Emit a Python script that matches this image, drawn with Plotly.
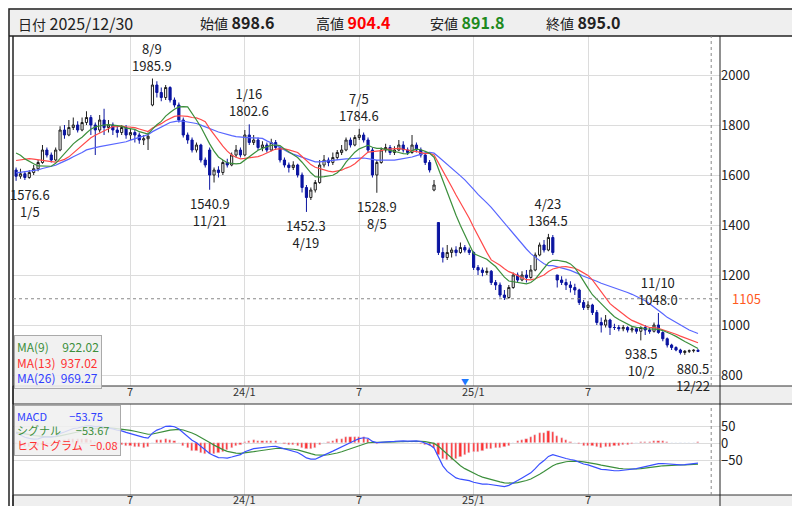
import plotly.graph_objects as go
import pandas as pd

dates = pd.date_range("2023-01-05", periods=156, freq="7D")
opens = [1620,1595,1605,1590,1610,1625,1650,1700,1680,1660,1700,1780,1760,1790,1800,1780,1810,1830,1800,1780,
 1820,1790,1800,1780,1770,1790,1760,1770,1760,1740,1745,1880,1960,1930,1910,1950,1900,1880,1820,1760,
 1740,1700,1720,1660,1700,1600,1620,1610,1650,1640,1680,1700,1680,1760,1730,1740,1710,1720,1700,1730,
 1710,1660,1640,1630,1640,1600,1550,1510,1540,1570,1640,1660,1650,1670,1690,1700,1740,1720,1750,1760,
 1740,1700,1600,1650,1700,1710,1690,1700,1720,1700,1690,1720,1700,1680,1650,1540,1410,1290,1270,1290,
 1300,1290,1310,1300,1290,1230,1220,1210,1215,1170,1160,1120,1110,1150,1200,1180,1200,1190,1220,1280,
 1320,1300,1350,1200,1180,1170,1160,1150,1140,1090,1070,1080,1050,1010,1000,1020,990,990,985,990,
 980,985,975,990,980,975,1000,970,945,920,910,900,890,895,897,898.6]
highs = [1630,1625,1615,1620,1640,1660,1720,1710,1690,1710,1795,1800,1820,1830,1815,1830,1855,1840,1810,1840,
 1865,1820,1810,1800,1800,1800,1785,1780,1770,1760,1770,1985.9,1975,1950,1960,1955,1910,1890,1830,1770,
 1750,1730,1725,1670,1710,1630,1635,1660,1665,1690,1720,1710,1780,1802.6,1760,1750,1735,1730,1745,1740,
 1715,1670,1650,1655,1645,1610,1560,1550,1580,1660,1680,1670,1690,1700,1720,1750,1750,1760,1784.6,1770,
 1750,1710,1660,1710,1725,1720,1715,1740,1735,1710,1760,1730,1710,1690,1660,1580,1410,1310,1320,1310,
 1315,1330,1320,1310,1295,1240,1230,1230,1220,1180,1170,1140,1160,1210,1210,1215,1220,1240,1290,1330,
 1340,1364.5,1360,1200,1195,1185,1175,1165,1145,1100,1095,1085,1060,1030,1040,1025,1005,1000,1000,995,
 995,990,995,1000,990,1010,1048,975,950,925,915,905,900,902,903,904.4]
lows = [1576.6,1585,1580,1585,1600,1615,1645,1670,1650,1655,1695,1745,1755,1780,1770,1775,1800,1760,1680,1770,
 1760,1770,1760,1750,1760,1745,1740,1730,1725,1720,1700,1875,1910,1895,1900,1890,1870,1810,1750,1725,
 1690,1690,1650,1630,1540.9,1570,1590,1600,1630,1635,1670,1670,1675,1720,1720,1700,1695,1690,1695,1700,
 1650,1630,1610,1620,1590,1530,1452.3,1500,1530,1565,1630,1635,1640,1660,1680,1695,1710,1715,1740,1730,
 1690,1590,1528.9,1645,1690,1680,1680,1695,1690,1680,1685,1690,1670,1640,1610,1535,1280,1250,1260,1270,
 1275,1285,1290,1280,1220,1200,1195,1200,1160,1140,1110,1100,1105,1145,1170,1175,1170,1185,1215,1275,
 1290,1295,1280,1150,1160,1140,1130,1120,1080,1060,1060,1040,1000,970,990,960,980,975,975,970,
 970,965,938.5,960,965,970,965,935,910,900,895,882,880.5,888,890,891.8]
closes = [1595,1605,1590,1610,1625,1650,1700,1680,1660,1700,1780,1760,1790,1800,1780,1810,1830,1800,1780,1820,
 1790,1800,1780,1770,1790,1760,1770,1760,1740,1745,1755,1960,1930,1910,1950,1900,1880,1820,1760,1740,
 1700,1720,1660,1640,1600,1620,1610,1650,1640,1680,1700,1680,1760,1730,1740,1710,1720,1700,1730,1710,
 1660,1640,1630,1640,1600,1550,1510,1540,1570,1640,1660,1650,1670,1690,1700,1740,1720,1750,1760,1740,
 1700,1600,1650,1700,1710,1690,1700,1720,1700,1690,1720,1700,1680,1650,1620,1560,1290,1270,1290,1300,
 1290,1310,1300,1290,1230,1220,1210,1215,1170,1160,1120,1110,1150,1200,1180,1200,1190,1220,1280,1320,
 1300,1350,1290,1180,1170,1160,1150,1140,1090,1070,1080,1050,1010,1000,1020,990,990,985,990,980,
 985,975,990,980,975,1000,970,945,920,910,900,890,895,897,899,895.0]
# closes before the visible window (estimated, used only to seed the averages)
pre_closes = [1540,1550,1530,1560,1570,1550,1560,1580,1570,1550,1560,1570,1560,1550,1580,1570,1560,
              1650,1690,1720,1710,1700,1730,1700,1690,1660]

n = len(closes)
idx = list(range(n))
allc = pd.Series(pre_closes + closes)
npre = len(pre_closes)
ma9 = allc.rolling(9).mean().iloc[npre:].tolist()
ma13 = allc.rolling(13).mean().iloc[npre:].tolist()
ma26 = allc.rolling(26).mean().iloc[npre:].tolist()
ema12 = allc.ewm(span=12, adjust=False).mean()
ema26 = allc.ewm(span=26, adjust=False).mean()
macd = ema12 - ema26
sig = macd.ewm(span=9, adjust=False).mean()
hist = (macd - sig)
macd_v = macd.iloc[npre:].tolist(); sig_v = sig.iloc[npre:].tolist(); hist_v = hist.iloc[npre:].tolist()

fig = go.Figure()
fig.add_trace(go.Candlestick(x=idx, open=opens, high=highs, low=lows, close=closes,
    increasing=dict(line=dict(color="#202020", width=1), fillcolor="white"),
    decreasing=dict(line=dict(color="#0a14a0", width=1), fillcolor="#0a14a0"),
    whiskerwidth=0, xaxis="x", yaxis="y", showlegend=False, hoverinfo="skip"))
for vals, col in [(ma26, "#5866ff"), (ma13, "#ff4a4a"), (ma9, "#3c8f3c")]:
    fig.add_trace(go.Scatter(x=idx, y=vals, mode="lines", line=dict(color=col, width=1.2),
                             xaxis="x", yaxis="y", showlegend=False, hoverinfo="skip"))
fig.add_trace(go.Bar(x=idx, y=hist_v, marker_color="#ff3030", width=0.5, xaxis="x2", yaxis="y2", showlegend=False))
fig.add_trace(go.Scatter(x=idx, y=sig_v, mode="lines", line=dict(color="#3c8f3c", width=1.2), xaxis="x2", yaxis="y2", showlegend=False))
fig.add_trace(go.Scatter(x=idx, y=macd_v, mode="lines", line=dict(color="#3a50ff", width=1.2), xaxis="x2", yaxis="y2", showlegend=False))

# month ticks
tickvals, ticktext = [], []
for i in range(1, n):
    if dates[i].month != dates[i-1].month and dates[i].month in (1, 7):
        tickvals.append(i)
        ticktext.append("7" if dates[i].month == 7 else dates[i].strftime("%y") + "/1")

xr = [-0.7, 160]
ax = dict(range=xr, tickvals=tickvals, showticklabels=False, showgrid=True, gridcolor="#dcdcdc",
          zeroline=False, showline=False, ticks="", rangeslider=dict(visible=False), fixedrange=True)
fig.update_layout(
    width=800, height=506, margin=dict(l=0, r=0, t=0, b=0), plot_bgcolor="white", paper_bgcolor="white",
    font=dict(family="Noto Sans CJK JP", color="#222"),
    xaxis=dict(**ax, domain=[5/800, 712/800], anchor="y"),
    xaxis2=dict(**ax, domain=[5/800, 712/800], anchor="y2"),
    yaxis=dict(domain=[1-378/506, 1-28/506], range=[756, 2156], side="right", tickvals=[800,1000,1200,1400,1600,1800,2000],
               gridcolor="#dcdcdc", showline=False, zeroline=False, ticks="", tickfont=dict(size=13, color="#222"), anchor="x"),
    yaxis2=dict(domain=[1-487/506, 1-396/506], range=[-150, 115], side="right", tickvals=[-50, 0, 50],
                gridcolor="#dcdcdc", showline=False, zeroline=False, ticks="", tickfont=dict(size=13, color="#222"), anchor="x2"),
    bargap=0,
)
shapes = [
    dict(type="rect", xref="paper", yref="paper", x0=0, x1=1, y0=1-28/506, y1=1, fillcolor="#efefef", line_width=0, layer="below"),
    dict(type="rect", xref="paper", yref="paper", x0=5/800, x1=795/800, y0=1-396/506, y1=1-378/506, fillcolor="#efefef", line=dict(color="#333", width=1)),
    dict(type="rect", xref="paper", yref="paper", x0=5/800, x1=795/800, y0=1-503/506, y1=1-487/506, fillcolor="#efefef", line=dict(color="#333", width=1)),
    dict(type="rect", xref="paper", yref="paper", x0=1/800, x1=798/800, y0=1/506, y1=1-1/506, line=dict(color="#222", width=1.5)),
    dict(type="line", xref="paper", yref="paper", x0=5/800, x1=5/800, y0=1/506, y1=1-28/506, line=dict(color="#222", width=1.5)),
    dict(type="line", xref="paper", yref="paper", x0=795/800, x1=795/800, y0=1/506, y1=1-28/506, line=dict(color="#222", width=1.5)),
    dict(type="line", xref="paper", yref="paper", x0=1/800, x1=799/800, y0=1-28/506, y1=1-28/506, line=dict(color="#222", width=1.5)),
    dict(type="line", xref="paper", yref="paper", x0=712/800, x1=712/800, y0=1/506, y1=1-28/506, line=dict(color="#222", width=1)),
    dict(type="line", xref="x", yref="y", x0=xr[0], x1=xr[1], y0=1105, y1=1105, line=dict(color="#888", width=1, dash="dot")),
    dict(type="line", xref="x", yref="paper", x0=158, x1=158, y0=1-378/506, y1=1-28/506, line=dict(color="#888", width=1, dash="dot")),
    dict(type="line", xref="x2", yref="paper", x0=158, x1=158, y0=1-487/506, y1=1-396/506, line=dict(color="#888", width=1, dash="dot")),
]
fig.update_layout(shapes=shapes)

ann = []
for tv, tt in zip(tickvals, ticktext):
    for yy in (387, 495):
        ann.append(dict(x=tv, xref="x", yref="paper", y=1-yy/506, yanchor="middle", showarrow=False, text=tt,
                        font=dict(size=11, color="#333"), yshift=4))
def hdr(x, label, val, col):
    ann.append(dict(xref="paper", yref="paper", x=x/800, y=1-14/506, xanchor="left", yanchor="middle", showarrow=False,
                    text=f"<span style='font-size:14px'>{label}</span> <b style='color:{col}'>{val}</b>", font=dict(size=16, color="#222")))
ann.append(dict(xref="paper", yref="paper", x=8/800, y=1-15/506, xanchor="left", yanchor="middle", showarrow=False,
                text="<span style='font-size:14px'>日付</span> 2025/12/30", font=dict(size=16, color="#222")))
hdr(190, "始値", "898.6", "#222")
hdr(306, "高値", "904.4", "#ff0000")
hdr(420, "安値", "891.8", "#1e8a1e")
hdr(536, "終値", "895.0", "#222")

for i, txt in [(31, "8/9<br>1985.9"), (53, "1/16<br>1802.6"), (78, "7/5<br>1784.6"), (121, "4/23<br>1364.5"), (146, "11/10<br>1048.0")]:
    ann.append(dict(x=i, y=highs[i], xref="x", yref="y", yanchor="bottom", showarrow=False, text=txt,
                    font=dict(size=13, color="#222"), yshift=2))
for i, txt in [(0, "1576.6<br>1/5"), (44, "1540.9<br>11/21"), (66, "1452.3<br>4/19"), (82, "1528.9<br>8/5"), (142, "938.5<br>10/2"), (152, "880.5<br>12/22")]:
    ann.append(dict(x=i, y=lows[i], xref="x", yref="y", yanchor="top", showarrow=False, text=txt,
                    font=dict(size=13, color="#222"), yshift=-2, xshift=(14 if i == 0 else (8 if i == 152 else 0))))
ann.append(dict(xref="paper", yref="y", x=722/800, y=1105, xanchor="left", showarrow=False, text="1105", font=dict(size=13, color="#ff5a1e")))
ann.append(dict(xref="x", yref="paper", x=102, y=1-383/506, showarrow=False, text="▼", font=dict(size=8, color="#1e78ff"), yshift=2))
ann.append(dict(xref="paper", yref="paper", x=6/800, y=1-327/506, xanchor="left", yanchor="top", showarrow=False, align="left",
    bgcolor="rgba(240,240,240,0.9)", bordercolor="#aaa", borderwidth=1, borderpad=2,
    text="<span style='color:#3c8f3c'>MA(9)&nbsp;&nbsp;&nbsp;&nbsp;&nbsp;922.02</span><br><span style='color:#ff3030'>MA(13)&nbsp;&nbsp;937.02</span><br><span style='color:#3040ff'>MA(26)&nbsp;&nbsp;969.27</span>",
    font=dict(size=12, family="Noto Sans CJK JP")))
ann.append(dict(xref="paper", yref="paper", x=6/800, y=1-397/506, xanchor="left", yanchor="top", showarrow=False, align="left",
    bgcolor="rgba(240,240,240,0.85)", bordercolor="#aaa", borderwidth=1, borderpad=2,
    text="<span style='color:#3040ff'>MACD&nbsp;&nbsp;&nbsp;&nbsp;&nbsp;&nbsp;&nbsp;&nbsp;&nbsp;−53.75</span><br><span style='color:#3c8f3c'>シグナル&nbsp;&nbsp;&nbsp;&nbsp;&nbsp;&nbsp;−53.67</span><br><span style='color:#ff3030'>ヒストグラム&nbsp;&nbsp;&nbsp;−0.08</span>",
    font=dict(size=11, family="Noto Sans CJK JP")))
fig.update_layout(annotations=ann)
fig.write_html("out.html")
